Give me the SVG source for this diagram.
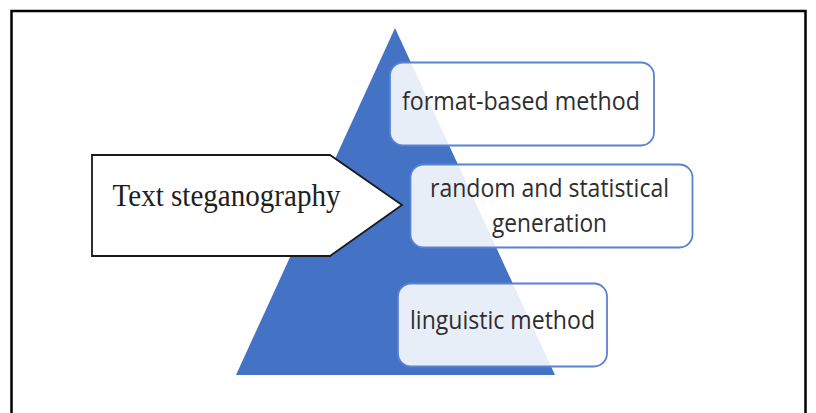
<svg xmlns="http://www.w3.org/2000/svg" width="816" height="413" viewBox="0 0 816 413">
  <style>
    .frame { fill: none; stroke: #000; stroke-width: 2.5; }
    .pyramid { fill: #4472c4; }
    .box { fill: #ffffff; fill-opacity: 0.88; stroke: #5a82d2; stroke-width: 1.8; }
    .label { font-family: "Open Sans", "Noto Sans", sans-serif; font-size: 25.5px; fill: #2e2e2e; text-anchor: middle; }
    .title { font-family: "Liberation Serif", "Times New Roman", serif; font-size: 30.5px; fill: #1e1e1e; }
    .arrow { fill: #ffffff; stroke: #1a1a1a; stroke-width: 1.8; stroke-linejoin: miter; }
  </style>

  <rect width="816" height="413" fill="#ffffff"/>

  <!-- outer frame, open at the bottom -->
  <path class="frame" d="M11.5 420 V11 H805.5 V420"/>

  <!-- pyramid background -->
  <g id="pyramid">
    <polygon class="pyramid" points="395,28 555,375 236,375"/>
  </g>

  <!-- connectors: none drawn in this figure -->
  <g id="connectors"></g>

  <g id="node-text-steganography">
    <polygon class="arrow" points="92,155 330,155 402,205 330,256 92,256"/>
    <text class="title" x="112.5" y="206" textLength="228" lengthAdjust="spacingAndGlyphs">Text steganography</text>
  </g>

  <g id="node-format-based">
    <rect class="box" x="390" y="62.5" width="264" height="83" rx="13"/>
    <text class="label" x="521" y="110" textLength="238" lengthAdjust="spacingAndGlyphs">format-based method</text>
  </g>

  <g id="node-random-statistical">
    <rect class="box" x="410.5" y="164.5" width="282" height="83" rx="13"/>
    <text class="label" x="549.5" y="197" textLength="239" lengthAdjust="spacingAndGlyphs">random and statistical</text>
    <text class="label" x="549.5" y="232" textLength="115" lengthAdjust="spacingAndGlyphs">generation</text>
  </g>

  <g id="node-linguistic">
    <rect class="box" x="398" y="283.5" width="209" height="83" rx="13"/>
    <text class="label" x="502.5" y="329" textLength="185" lengthAdjust="spacingAndGlyphs">linguistic method</text>
  </g>
</svg>
